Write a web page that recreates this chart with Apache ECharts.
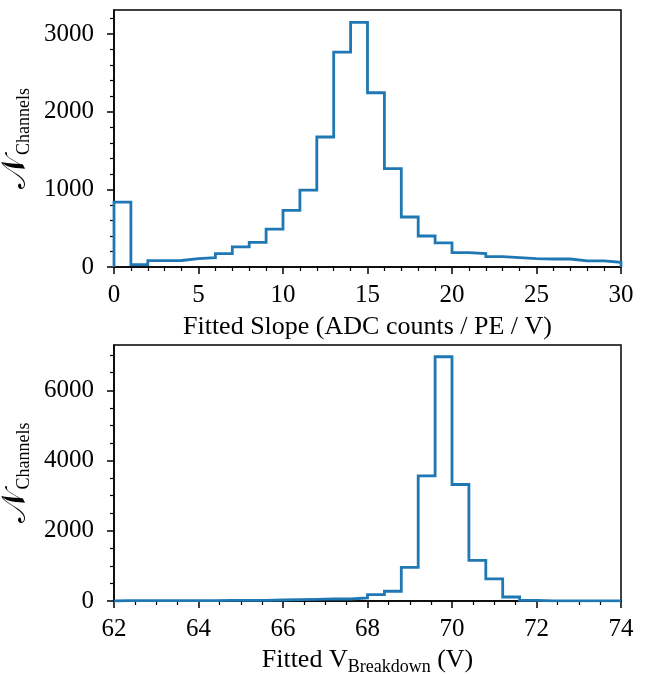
<!DOCTYPE html>
<html>
<head>
<meta charset="utf-8">
<script src="https://cdn.jsdelivr.net/npm/echarts@6/dist/echarts.min.js"></script>
<style>
html,body{margin:0;padding:0;background:#fff;}
#chart{width:648px;height:674px;}
</style>
</head>
<body>
<div id="chart"></div>
<script>
// ---- Data ----
const slopeBinEdges = [0,1,2,3,4,5,6,7,8,9,10,11,12,13,14,15,16,17,18,19,20,21,22,23,24,25,26,27,28,29,30];
const slopeCounts = [836,30,82,84,108,121,172,259,318,489,730,991,1674,2768,3150,2244,1266,644,399,310,185,172,134,121,108,103,103,78,78,60];
const slopeTicks = [0,1000,2000,3000];
const slopeMinorTicks = [200,400,600,800,1200,1400,1600,1800,2200,2400,2600,2800,3200];

const vbdBinEdges = [62.0,62.4,62.8,63.2,63.6,64.0,64.4,64.8,65.2,65.6,66.0,66.4,66.8,67.2,67.6,68.0,68.4,68.8,69.2,69.6,70.0,70.4,70.8,71.2,71.6,72.0,72.4,72.8,73.2,73.6,74.0];
const vbdCounts = [8,10,9,12,11,13,15,16,20,28,38,45,62,57,85,180,278,955,3563,6955,3318,1158,628,114,15,5,3,2,1,1];
const vbdTicks = [0,2000,4000,6000];
const vbdMinorTicks = [500,1000,1500,2500,3000,3500,4500,5000,5500,6500,7000];

// ---- Helpers ----
function stepPoints(edges, counts) {
  const pts = [[edges[0], 0]];
  for (let i = 0; i < counts.length; i++) {
    pts.push([edges[i], counts[i]]);
    pts.push([edges[i + 1], counts[i]]);
  }
  pts.push([edges[edges.length - 1], 0]);
  return pts;
}

const FONT = "'Liberation Serif', 'DejaVu Serif', serif";
const FS = 25;
const NFS = 26;
const SUBFS = 18;
const BLACK = '#000';
const plain = v => String(v);

function xAxisCfg(gridIndex, min, max, interval, minorSplit, nameRich, nameText, nameGap) {
  return {
    type: 'value', gridIndex, min, max, interval,
    axisLine: { show: true, lineStyle: { color: BLACK, width: 1.5 } },
    axisTick: { show: true, length: 7, lineStyle: { color: BLACK, width: 1.5 } },
    minorTick: { show: true, splitNumber: minorSplit, length: 4, lineStyle: { color: BLACK, width: 1.2 } },
    splitLine: { show: false },
    minorSplitLine: { show: false },
    axisLabel: { fontFamily: FONT, fontSize: FS, color: BLACK, margin: 16, formatter: plain },
    name: nameText,
    nameLocation: 'middle',
    nameGap: nameGap,
    nameTextStyle: { fontFamily: FONT, fontSize: NFS, color: BLACK, rich: nameRich }
  };
}

function yMajor(gridIndex, max, ticks) {
  return {
    type: 'value', gridIndex, min: 0, max, position: 'left',
    axisLine: { show: true, lineStyle: { color: BLACK, width: 1.5 } },
    axisTick: { show: true, length: 7, customValues: ticks, lineStyle: { color: BLACK, width: 1.5 } },
    axisLabel: { fontFamily: FONT, fontSize: FS, color: BLACK, margin: 20, customValues: ticks, formatter: plain },
    splitLine: { show: false },
    name: '{n|𝒩}{s|Channels}',
    nameLocation: 'middle',
    nameGap: 72,
    nameTextStyle: {
      fontFamily: FONT, fontSize: NFS, color: BLACK,
      rich: {
        n: { fontFamily: FONT, fontSize: 34, color: BLACK, lineHeight: 34, verticalAlign: 'top' },
        s: { fontFamily: FONT, fontSize: SUBFS, color: BLACK, lineHeight: 18, padding: [16, 0, 0, 1], verticalAlign: 'top' }
      }
    }
  };
}

function yMinor(gridIndex, max, ticks) {
  return {
    type: 'value', gridIndex, min: 0, max, position: 'left', offset: 0,
    axisLine: { show: false },
    axisTick: { show: true, length: 4, customValues: ticks, lineStyle: { color: BLACK, width: 1.2 } },
    axisLabel: { show: false },
    splitLine: { show: false }
  };
}

const subRich = {
  a: { fontFamily: FONT, fontSize: NFS, color: BLACK, lineHeight: 28, verticalAlign: 'top' },
  s: { fontFamily: FONT, fontSize: SUBFS, color: BLACK, lineHeight: 18, padding: [11, 0, 0, 0], verticalAlign: 'top' }
};

const chart = echarts.init(document.getElementById('chart'), null, { renderer: 'canvas' });
chart.setOption({
  animation: false,
  backgroundColor: '#fff',
  grid: [
    { left: 114, top: 10, width: 507, height: 257, show: true, borderColor: BLACK, borderWidth: 1.5, containLabel: false, outerBoundsMode: 'none' },
    { left: 114, top: 345, width: 507, height: 256, show: true, borderColor: BLACK, borderWidth: 1.5, containLabel: false, outerBoundsMode: 'none' }
  ],
  xAxis: [
    xAxisCfg(0, 0, 30, 5, 5, {}, 'Fitted Slope (ADC counts / PE / V)', 47),
    xAxisCfg(1, 62, 74, 2, 4, subRich, '{a|Fitted V}{s|Breakdown}{a| (V)}', 46)
  ],
  yAxis: [
    yMajor(0, 3310, slopeTicks),
    yMinor(0, 3310, slopeMinorTicks),
    yMajor(1, 7290, vbdTicks),
    yMinor(1, 7290, vbdMinorTicks)
  ],
  series: [
    {
      type: 'line', xAxisIndex: 0, yAxisIndex: 0,
      data: stepPoints(slopeBinEdges, slopeCounts),
      showSymbol: false, symbol: 'none',
      lineStyle: { color: '#1f77b4', width: 2.8, join: 'miter' },
      clip: true
    },
    {
      type: 'line', xAxisIndex: 1, yAxisIndex: 2,
      data: stepPoints(vbdBinEdges, vbdCounts),
      showSymbol: false, symbol: 'none',
      lineStyle: { color: '#1f77b4', width: 2.8, join: 'miter' },
      clip: true
    }
  ]
});
</script>
</body>
</html>
